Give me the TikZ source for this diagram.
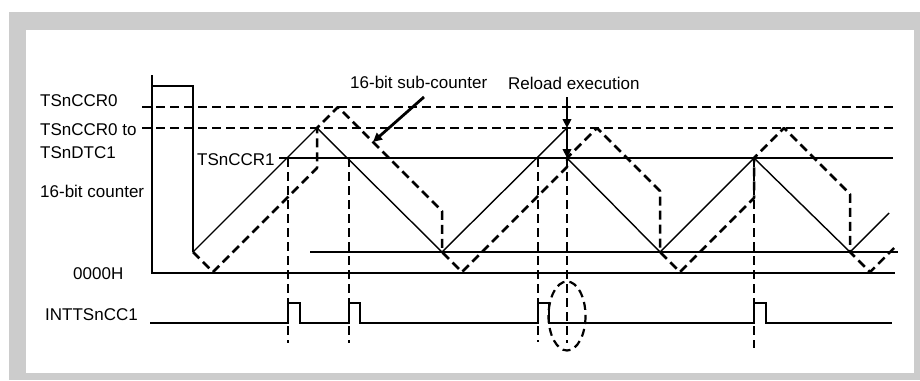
\documentclass[tikz,border=0pt]{standalone}
\usepackage{fontspec}
\setmainfont{Liberation Sans}
\usetikzlibrary{arrows.meta}
\begin{document}
\begin{tikzpicture}[x=1pt,y=-1pt,
  font=\fontsize{17}{20}\selectfont,
  lbl/.style={inner sep=0pt, anchor=west},
  axisline/.style={line width=2pt},
  sol/.style={line width=1.4pt, line join=miter},
  thinline/.style={line width=1.1pt},
  dsh/.style={line width=2.5pt, dash pattern=on 9pt off 5pt},
  sig/.style={line width=1.8pt},
  bigarrow/.style={line width=2.8pt, -{Triangle[length=9pt,width=8.5pt]}},
]
\useasboundingbox (0,0) rectangle (920,380);
\fill[gray!40] (9,12) rectangle (920,380);
\fill[white] (26,30) rectangle (914,373);

% labels
\node[lbl] (ccr0) at (40,101) {TSnCCR0};
\node[lbl] (ccr0to) at (40,130) {TSnCCR0 to};
\node[lbl] (dtc1) at (40,152.5) {TSnDTC1};
\node[lbl] (cnt) at (40,191.5) {16-bit counter};
\node[lbl] (zero) at (73,273.5) {0000H};
\node[lbl] (intt) at (45,315) {INTTSnCC1};
\node[lbl] (ccr1) at (197,160) {TSnCCR1};
\node[lbl] (sub) at (350,82.5) {16-bit sub-counter};
\node[lbl] (reload) at (508,83) {Reload execution};

% axes and initial block
\draw[axisline] (152,75) -- (152,273) -- (895,273);
\draw[sol, line width=1.8pt] (152,86) -- (193,86) -- (193,252);

% reference levels
\draw[dsh] (142,107) -- (895,107);
\draw[dsh] (142,128) -- (895,128);
\draw[thinline] (279,158) -- (893,158);
\draw[thinline] (310,252) -- (898,252);

% 16-bit counter (solid)
\draw[sol] (193,252) -- (317,128) -- (442,252) -- (567,128);
\draw[sol] (567,158) -- (660,252) -- (754,158) -- (850,252) -- (889,213);

% 16-bit sub-counter (dashed)
\draw[dsh, line join=round] (193,252) -- (213,272) -- (317,168) -- (317,128) -- (338,107)
  -- (442,211) -- (442,252) -- (462,272) -- (567,167) -- (567,158) -- (597,128)
  -- (660,191) -- (660,252) -- (680,272) -- (754,198) -- (754,158) -- (784,128)
  -- (850,194) -- (850,252) -- (870,272) -- (894,248);

% vertical markers
\draw[dsh] (288,158) -- (288,343);
\draw[dsh] (349,158) -- (349,343);
\draw[dsh] (538,158) -- (538,342);
\draw[dsh] (567,158) -- (567,343);
\draw[dsh] (754,158) -- (754,348);

% interrupt signal
\draw[sig] (150,323) -- (288,323) -- (288,303) -- (300,303) -- (300,323)
  -- (349,323) -- (349,303) -- (360,303) -- (360,323)
  -- (538,323) -- (538,303) -- (549,303) -- (549,323)
  -- (754,323) -- (754,303) -- (766,303) -- (766,323) -- (892,323);

% ellipse
\draw[line width=2.2pt, dash pattern=on 8pt off 5pt] (567,316) ellipse [x radius=18.5, y radius=34.5];

% arrows
\coordinate (subA) at (424,97);
\coordinate (subB) at (373,142);
\draw[bigarrow] (subA) -- (subB);
\coordinate (relA) at (567,97);
\coordinate (relB) at (567,128);
\coordinate (relC) at (567,158);
\draw[bigarrow] (relA) -- (relB);
\draw[bigarrow] (relB) -- (relC);
\end{tikzpicture}
\end{document}
